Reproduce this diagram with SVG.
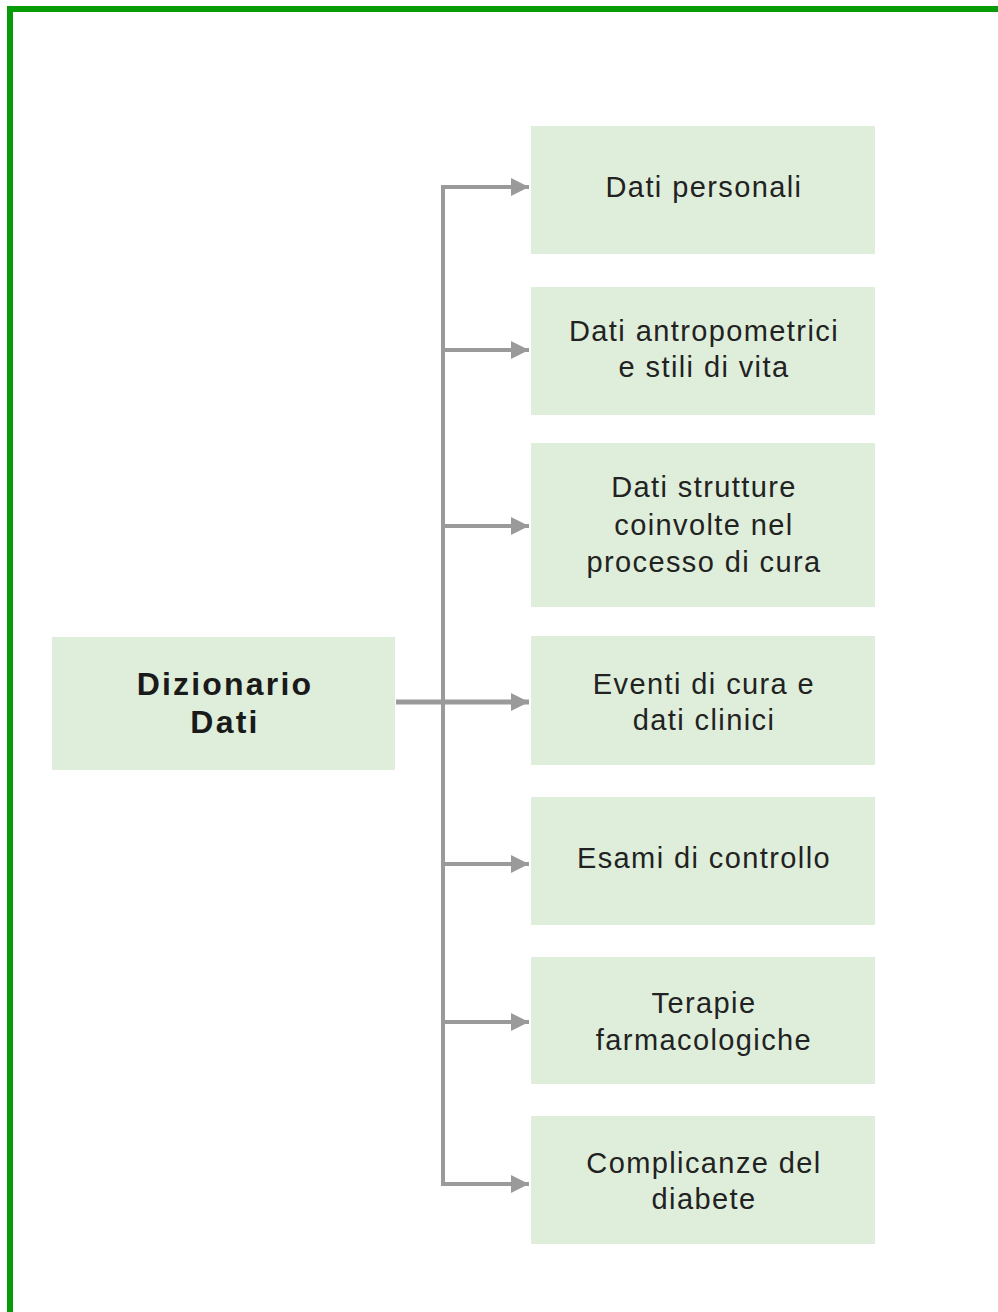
<svg xmlns="http://www.w3.org/2000/svg" width="998" height="1312" viewBox="0 0 998 1312">
<style>
.box{fill:#dfeedb}
.t{font-family:"Liberation Sans",Arial,sans-serif;font-size:29px;fill:#222;text-anchor:middle;letter-spacing:1.4px}
.b{font-family:"Liberation Sans",Arial,sans-serif;font-size:32px;font-weight:bold;fill:#1a1a1a;text-anchor:middle;letter-spacing:2.2px}
.c{stroke:#9a9a9a;fill:none}
</style>
<defs>
<marker id="ah" viewBox="0 0 10 10" refX="10" refY="5" markerWidth="18" markerHeight="20" markerUnits="userSpaceOnUse" orient="auto"><path d="M0,0 L10,5 L0,10 z" fill="#9a9a9a"/></marker>
</defs>
<rect x="10" y="9" width="1000" height="1320" fill="#fff" stroke="#079b07" stroke-width="6"/>
<g id="connectors">
<path class="c" stroke-width="4" d="M443,187 V1184"/>
<path class="c" stroke-width="4" d="M441,187 H529" marker-end="url(#ah)"/>
<path class="c" stroke-width="4" d="M443,350 H529" marker-end="url(#ah)"/>
<path class="c" stroke-width="4" d="M443,526 H529" marker-end="url(#ah)"/>
<path class="c" stroke-width="5" d="M396,702 H529" marker-end="url(#ah)"/>
<path class="c" stroke-width="4" d="M443,864 H529" marker-end="url(#ah)"/>
<path class="c" stroke-width="4" d="M443,1022 H529" marker-end="url(#ah)"/>
<path class="c" stroke-width="4" d="M441,1184 H529" marker-end="url(#ah)"/>
</g>
<g id="root"><rect class="box" x="52" y="637" width="343" height="133"/><text class="b" x="225" y="695">Dizionario</text><text class="b" x="225" y="733">Dati</text></g>
<g id="n1"><rect class="box" x="531" y="126" width="344" height="128"/><text class="t" x="704" y="197">Dati personali</text></g>
<g id="n2"><rect class="box" x="531" y="287" width="344" height="128"/><text class="t" x="704" y="341">Dati antropometrici</text><text class="t" x="704" y="377">e stili di vita</text></g>
<g id="n3"><rect class="box" x="531" y="443" width="344" height="164"/><text class="t" x="704" y="497">Dati strutture</text><text class="t" x="704" y="535">coinvolte nel</text><text class="t" x="704" y="572">processo di cura</text></g>
<g id="n4"><rect class="box" x="531" y="636" width="344" height="129"/><text class="t" x="704" y="694">Eventi di cura e</text><text class="t" x="704" y="730">dati clinici</text></g>
<g id="n5"><rect class="box" x="531" y="797" width="344" height="128"/><text class="t" x="704" y="868">Esami di controllo</text></g>
<g id="n6"><rect class="box" x="531" y="957" width="344" height="127"/><text class="t" x="704" y="1013">Terapie</text><text class="t" x="704" y="1050">farmacologiche</text></g>
<g id="n7"><rect class="box" x="531" y="1116" width="344" height="128"/><text class="t" x="704" y="1173">Complicanze del</text><text class="t" x="704" y="1209">diabete</text></g>
</svg>
